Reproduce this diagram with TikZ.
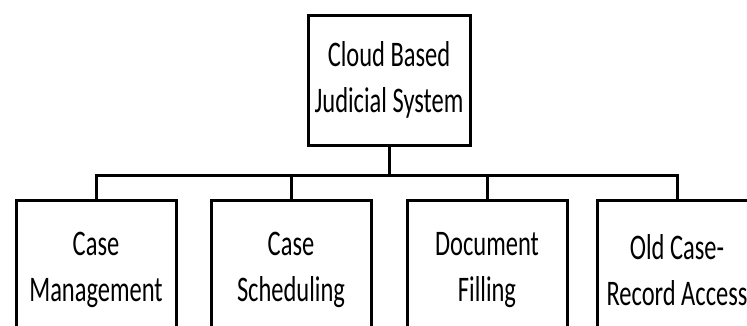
\documentclass[tikz,border=0pt]{standalone}
\usepackage{fontspec}
\setmainfont{Carlito}[FakeStretch=0.68]

\begin{document}
\begin{tikzpicture}[x=1pt,y=-1pt,
    main node/.style={draw,line width=3pt,minimum width=162pt,minimum height=130pt,
      inner sep=0pt,align=center,font=\fontsize{36}{46}\selectfont},
    sub node/.style={main node,minimum width=160pt,minimum height=140pt},
    ]
  \useasboundingbox (0,0) rectangle (747,325);
  \clip (0,0) rectangle (747,325);

  \node[main node] (0) at (389,80) {Cloud Based\\Judicial System};

  \node[sub node] (1) at (96,270) {Case\\Management};
  \node[sub node] (2) at (291,270) {Case\\Scheduling};
  \node[sub node] (3) at (487,270) {Document\\Filling};
  \node[sub node] (4) at (677,270) {Old Case-\\Record Access};

  \draw[line width=3pt] (0.south) -- ++(0,29) coordinate (bus);
  \draw[line width=3pt] (1.north) |- (bus) -| (4.north);
  \draw[line width=3pt] (2.north) |- (bus);
  \draw[line width=3pt] (3.north) |- (bus);
\end{tikzpicture}
\end{document}
